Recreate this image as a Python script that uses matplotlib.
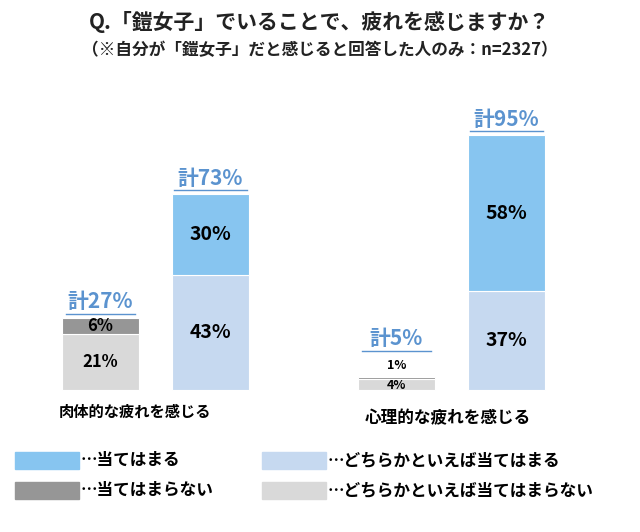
import matplotlib
matplotlib.use("Agg")
import matplotlib.pyplot as plt
from matplotlib.patches import Rectangle

plt.rcParams["font.family"] = "Noto Sans CJK JP"

groups = ["肉体的な疲れを感じる", "心理的な疲れを感じる"]
neg_strong = [6, 1]     # 当てはまらない
neg_weak = [21, 4]      # どちらかといえば当てはまらない
pos_strong = [30, 58]   # 当てはまる
pos_weak = [43, 37]     # どちらかといえば当てはまる
neg_total = [27, 5]
pos_total = [73, 95]

c_pos_strong = "#87c5f0"
c_pos_weak = "#c6d9f0"
c_neg_strong = "#969696"
c_neg_weak = "#d9d9d9"
c_total = "#5b93cf"

W, H = 640, 532
fig = plt.figure(figsize=(W/100, H/100), dpi=100)
ax = fig.add_axes([0, 0, 1, 1])
ax.set_xlim(0, W); ax.set_ylim(H, 0); ax.axis("off")

base = 390
k = 2.68
bw = 77
xs_neg = [62, 358]
xs_pos = [172, 468]

for i in range(2):
    y = base
    small = neg_total[i] < 10
    for j, (v, c) in enumerate([(neg_weak[i], c_neg_weak), (neg_strong[i], c_neg_strong)]):
        h = v * k
        ax.add_patch(Rectangle((xs_neg[i], y - h), bw, h, color=c, ec="white", lw=0.8))
        if small:
            ty = y - h/2 + 1 if j == 0 else y - h - 11
            fs = 9
        else:
            ty = y - h/2
            fs = 12
        ax.text(xs_neg[i] + bw/2, ty, f"{v}%", ha="center", va="center",
                fontsize=fs, fontweight="bold")
        y -= h
    top = y - (22 if small else 0)
    ax.text(xs_neg[i] + bw/2, top - 16, f"計{neg_total[i]}%", ha="center", va="center",
            fontsize=15, fontweight="bold", color=c_total)
    ax.plot([xs_neg[i] + 4, xs_neg[i] + bw - 4], [top - 4, top - 4], color=c_total, lw=1)
    y = base
    for v, c in [(pos_weak[i], c_pos_weak), (pos_strong[i], c_pos_strong)]:
        h = v * k
        ax.add_patch(Rectangle((xs_pos[i], y - h), bw, h, color=c, ec="white", lw=0.8))
        ax.text(xs_pos[i] + bw/2, y - h/2, f"{v}%", ha="center", va="center",
                fontsize=14, fontweight="bold")
        y -= h
    ax.text(xs_pos[i] + bw/2, y - 16, f"計{pos_total[i]}%", ha="center", va="center",
            fontsize=15, fontweight="bold", color=c_total)
    ax.plot([xs_pos[i] + 2, xs_pos[i] + bw - 2], [y - 4, y - 4], color=c_total, lw=1)

ax.text(135, 412, groups[0], ha="center", va="center", fontsize=11, fontweight="bold")
ax.text(448, 418, groups[1], ha="center", va="center", fontsize=12, fontweight="bold")

ax.text(320, 22, "Q.「鎧女子」でいることで、疲れを感じますか？", ha="center", va="center",
        fontsize=15, fontweight="bold", color="#222222")
ax.text(320, 50, "（※自分が「鎧女子」だと感じると回答した人のみ：n=2327）", ha="center", va="center",
        fontsize=12, fontweight="bold", color="#222222")

leg = [(15, 460, c_pos_strong, "…当てはまる"),
       (262, 460, c_pos_weak, "…どちらかといえば当てはまる"),
       (15, 490, c_neg_strong, "…当てはまらない"),
       (262, 490, c_neg_weak, "…どちらかといえば当てはまらない")]
for x, y, c, t in leg:
    ax.add_patch(Rectangle((x, y - 8), 64, 17, color=c))
    ax.text(x + 66, y, t, ha="left", va="center", fontsize=12, fontweight="bold")

fig.savefig("out.png", dpi=100)
